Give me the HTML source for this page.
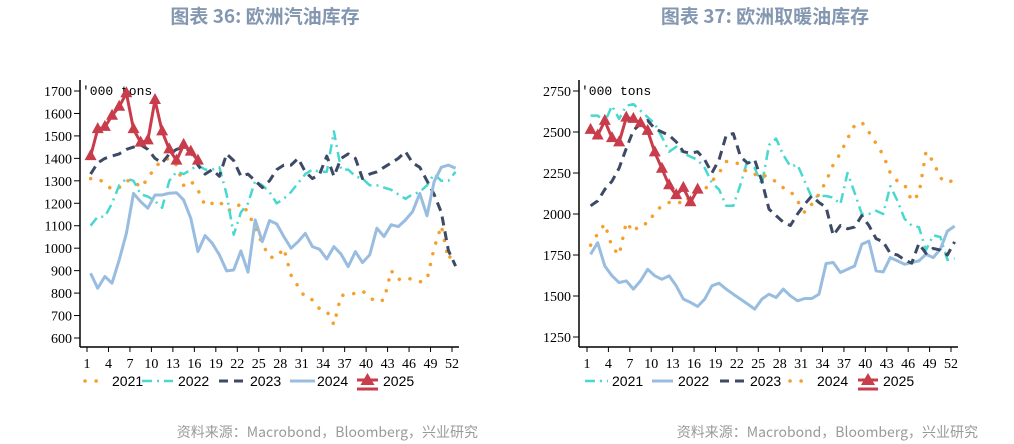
<!DOCTYPE html>
<html><head><meta charset="utf-8"><style>
body{margin:0;background:#fff;width:1014px;height:444px;overflow:hidden}
svg{position:absolute;left:0;top:0}
</style></head><body>
<svg id="s" width="1014" height="444" xmlns="http://www.w3.org/2000/svg"></svg>
<script>
const S=document.getElementById('s');let h='';
const C={o:'#f5a02c',c:'#48d8d0',d:'#3d4a66',b:'#99bde0',r:'#c83c4c'};
const st={o:'stroke-dasharray="0.1 11" stroke-linecap="round" stroke-width="3.5"',c:'stroke-dasharray="10 5 2 5" stroke-width="2.5"',d:'stroke-dasharray="9 6" stroke-width="3"',b:'stroke-width="3"',r:'stroke-width="3"'};
h+='<text x="265" y="23" text-anchor="middle" font-family="Noto Sans CJK SC,sans-serif" font-size="19" font-weight="bold" fill="#8497b0">图表 36: 欧洲汽油库存</text>';
h+='<text x="765" y="23" text-anchor="middle" font-family="Noto Sans CJK SC,sans-serif" font-size="19" font-weight="bold" fill="#8497b0">图表 37: 欧洲取暖油库存</text>';
h+='<text x="478" y="437" text-anchor="end" font-family="Noto Sans CJK SC,sans-serif" font-size="14" fill="#999">资料来源：Macrobond，Bloomberg，兴业研究</text>';
h+='<text x="978" y="437" text-anchor="end" font-family="Noto Sans CJK SC,sans-serif" font-size="14" fill="#999">资料来源：Macrobond，Bloomberg，兴业研究</text>';
function chart(ax,x1,x52,yTop,vTop,vBot,yBot,step,ticks,series,leg){
 const X=i=>x1+(x52-x1)*i/51, Y=v=>yTop+(vTop-v)*(yBot-yTop)/(vTop-vBot);
 h+=`<line x1="${ax}" y1="80" x2="${ax}" y2="347" stroke="#000" stroke-width="1.5"/><line x1="${ax}" y1="347" x2="${x52+7}" y2="347" stroke="#000" stroke-width="1.5"/>`;
 for(const t of ticks){const y=Y(t);h+=`<line x1="${ax-6}" y1="${y}" x2="${ax}" y2="${y}" stroke="#000"/><text x="${ax-8}" y="${y+5}" text-anchor="end" font-family="Liberation Serif,serif" font-size="14">${t}</text>`;}
 for(let w=1;w<=52;w+=3){const x=X(w-1);h+=`<line x1="${x}" y1="347" x2="${x}" y2="352" stroke="#000"/><text x="${x}" y="368" text-anchor="middle" font-family="Liberation Serif,serif" font-size="14">${w}</text>`;}
 h+=`<text x="${ax+2}" y="95" font-family="Liberation Mono,monospace" font-size="13">'000 tons</text>`;
 for(const [k,d] of series){const p=d.map((v,i)=>X(i+0.5).toFixed(1)+','+Y(v).toFixed(1)).join(' ');
  h+=`<polyline points="${p}" fill="none" stroke="${C[k]}" ${st[k]} stroke-linejoin="round"/>`;
  if(k=='r')d.forEach((v,i)=>{const x=X(i+0.5),y=Y(v);h+=`<polygon points="${x},${y-7} ${x-6},${y+4} ${x+6},${y+4}" fill="${C.r}"/>`;});}
 for(const [k,a,b,tx,lab] of leg){
  if(k=='r'){h+=`<line x1="${a}" y1="389" x2="${b}" y2="389" stroke="${C.r}" stroke-width="3"/><line x1="${a}" y1="380" x2="${b}" y2="380" stroke="${C.r}" stroke-width="3"/><polygon points="${(a+b)/2},373 ${(a+b)/2-7},385 ${(a+b)/2+7},385" fill="${C.r}"/>`;}
  else h+=`<line x1="${a}" y1="381" x2="${b}" y2="381" stroke="${C[k]}" ${st[k]}/>`;
  h+=`<text x="${tx}" y="386" font-family="Liberation Sans,sans-serif" font-size="14">${lab}</text>`;}
}
chart(80,87,452,91,1700,600,338,100,[600,700,800,900,1000,1100,1200,1300,1400,1500,1600,1700],[
['o',[1310,1310,1290,1260,1270,1300,1300,1270,1310,1360,1390,1400,1370,1280,1300,1260,1190,1200,1210,1170,1170,1200,1160,1090,1020,960,960,1000,880,830,780,770,730,720,660,790,790,800,810,780,760,770,900,860,870,860,850,860,1000,1100,950,1000]],
['c',[1100,1140,1140,1200,1280,1310,1300,1240,1230,1210,1180,1300,1340,1330,1350,1370,1350,1350,1360,1240,1060,1160,1200,1300,1280,1250,1200,1220,1250,1290,1330,1350,1340,1340,1520,1350,1350,1320,1310,1280,1280,1270,1260,1240,1220,1240,1250,1280,1330,1300,1300,1340]],
['d',[1330,1380,1400,1410,1420,1440,1450,1460,1440,1400,1380,1420,1440,1450,1430,1370,1330,1350,1320,1420,1390,1320,1330,1300,1270,1300,1350,1370,1370,1400,1340,1310,1330,1410,1320,1400,1420,1400,1310,1330,1340,1360,1380,1400,1430,1380,1360,1300,1240,1160,990,920]],
['b',[888,822,874,844,948,1066,1244,1207,1178,1237,1237,1245,1247,1215,1133,985,1056,1022,970,899,903,988,893,1126,1029,1123,1108,1052,1000,1029,1066,1007,995,952,1007,973,918,985,936,970,1089,1052,1104,1096,1126,1163,1244,1144,1296,1360,1370,1356]],
['r',[1410,1530,1540,1590,1630,1690,1530,1470,1480,1660,1520,1440,1390,1460,1430,1390]]],
[['o',85,100,112,'2021'],['c',142,173,178,'2022'],['d',219,245,250,'2023'],['b',290,315,317,'2024'],['r',357,378,383,'2025']]);
chart(579,587,951,91,2750,1250,337,250,[1250,1500,1750,2000,2250,2500,2750],[
['c',[2600,2600,2560,2660,2580,2660,2670,2630,2590,2550,2470,2380,2410,2370,2350,2330,2280,2190,2150,2050,2050,2180,2330,2280,2180,2420,2460,2360,2290,2300,2200,2100,2110,2110,2100,2060,2250,2130,2000,2000,2020,2000,2170,2080,1970,1930,1920,1780,1870,1860,1720,1730]],
['b',[1754,1825,1683,1623,1582,1592,1542,1592,1663,1623,1602,1623,1562,1481,1461,1436,1481,1562,1578,1542,1511,1481,1451,1420,1481,1511,1491,1542,1501,1471,1485,1485,1511,1698,1704,1643,1663,1683,1815,1835,1653,1647,1734,1714,1693,1704,1714,1754,1734,1785,1896,1926]],
['d',[2050,2080,2150,2200,2280,2400,2510,2550,2570,2520,2500,2480,2440,2380,2370,2380,2330,2250,2330,2480,2490,2350,2310,2330,2200,2030,1990,1950,1930,2000,2060,2110,2070,2040,1870,1930,1910,1920,1990,1930,1850,1830,1760,1750,1720,1700,1820,1760,1790,1780,1750,1830]],
['o',[1810,1880,1940,1800,1750,1950,1890,1940,1940,2010,2050,2070,2080,2060,2110,2140,2150,2200,2250,2320,2320,2300,2250,2240,2250,2210,2200,2160,2140,2080,2010,2060,2120,2200,2300,2370,2460,2540,2560,2500,2430,2360,2250,2200,2180,2080,2120,2380,2320,2220,2190,2210]],
['r',[2513,2479,2568,2463,2437,2588,2580,2554,2507,2376,2276,2175,2115,2159,2072,2149]]],
[['c',585,608,612,'2021'],['b',652,673,678,'2022'],['d',720,745,750,'2023'],['o',790,807,817,'2024'],['r',858,878,883,'2025']]);
S.innerHTML=h;
</script>
</body></html>
